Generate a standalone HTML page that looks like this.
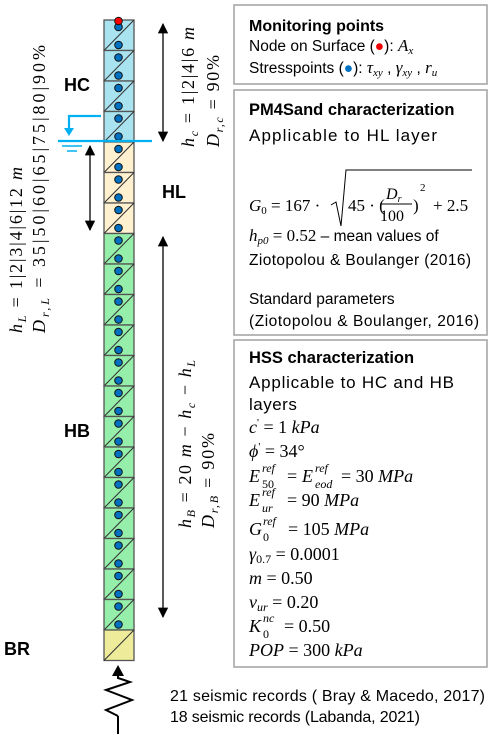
<!DOCTYPE html>
<html><head><meta charset="utf-8"><style>
html,body{margin:0;padding:0;background:#fff}
svg{display:block}
text{font-family:"Liberation Sans",sans-serif;fill:#000}
.n text,.n tspan{font-family:"Liberation Serif",serif}
.m,.n .m{font-family:"Liberation Serif",serif;font-style:italic}
.n{font-family:"Liberation Serif",serif}
</style></head><body>
<svg width="498" height="734" viewBox="0 0 498 734">
<g id="col"></g>
<text x="64" y="91" font-size="18" font-weight="bold">HC</text>
<text x="162" y="198" font-size="18" font-weight="bold">HL</text>
<text x="64" y="437" font-size="18" font-weight="bold">HB</text>
<text x="4" y="655" font-size="18" font-weight="bold">BR</text>
<defs><marker id="ah" viewBox="0 0 10 10" refX="9" refY="5" markerWidth="8" markerHeight="8" orient="auto-start-reverse"><path d="M0,0L10,5L0,10z" fill="#000"/></marker></defs>
<line x1="163" y1="24" x2="163" y2="141" stroke="#000" stroke-width="1.3" marker-start="url(#ah)" marker-end="url(#ah)"/>
<line x1="90" y1="146" x2="90" y2="230" stroke="#000" stroke-width="1.3" marker-start="url(#ah)" marker-end="url(#ah)"/>
<line x1="163" y1="237" x2="163" y2="617" stroke="#000" stroke-width="1.3" marker-start="url(#ah)" marker-end="url(#ah)"/>
<g stroke="#00b0f0" stroke-width="2.2" fill="none">
<line x1="58" y1="141" x2="152" y2="141"/>
<polyline points="101,116 69,116 69,130"/>
<path d="M64,128 L74,128 L69,136z" fill="#00b0f0" stroke="none"/>
<line x1="62" y1="146" x2="82" y2="146" stroke-width="1.5"/>
<line x1="67" y1="151" x2="77" y2="151" stroke-width="1.5"/>
</g>
<g class="n">
<g transform="translate(22,333) rotate(-90)"><text font-size="18" textLength="166" lengthAdjust="spacing"><tspan class="m">h</tspan><tspan class="m" font-size="12" dy="4">L</tspan><tspan dy="-4"> = 1|2|3|4|6|12 </tspan><tspan class="m">m</tspan></text></g>
<g transform="translate(45,333) rotate(-90)"><text font-size="18" textLength="288" lengthAdjust="spacing"><tspan class="m">D</tspan><tspan class="m" font-size="12" dy="4">r,L</tspan><tspan dy="-4"> = 35|50|60|65|75|80|90%</tspan></text></g>
<g transform="translate(194,147) rotate(-90)"><text font-size="18" textLength="120" lengthAdjust="spacing"><tspan class="m">h</tspan><tspan class="m" font-size="12" dy="4">c</tspan><tspan dy="-4"> = 1|2|4|6 </tspan><tspan class="m">m</tspan></text></g>
<g transform="translate(219,147) rotate(-90)"><text font-size="18" textLength="92" lengthAdjust="spacing"><tspan class="m">D</tspan><tspan class="m" font-size="12" dy="4">r,c</tspan><tspan dy="-4"> = 90%</tspan></text></g>
<g transform="translate(191,528) rotate(-90)"><text font-size="18" textLength="168" lengthAdjust="spacing"><tspan class="m">h</tspan><tspan class="m" font-size="12" dy="4">B</tspan><tspan dy="-4"> = 20 </tspan><tspan class="m">m</tspan><tspan> − </tspan><tspan class="m">h</tspan><tspan class="m" font-size="12" dy="4">c</tspan><tspan dy="-4"> − </tspan><tspan class="m">h</tspan><tspan class="m" font-size="12" dy="4">L</tspan></text></g>
<g transform="translate(214,528) rotate(-90)"><text font-size="18" textLength="95" lengthAdjust="spacing"><tspan class="m">D</tspan><tspan class="m" font-size="12" dy="4">r,B</tspan><tspan dy="-4"> = 90%</tspan></text></g>
</g>
<g stroke="#000" stroke-width="2" fill="none">
<line x1="118" y1="734" x2="118" y2="716"/>
<polyline points="118,716 106,710 132,700 106,690 130,682 118,678 118,675"/>
<path d="M112,676 L118,665 L124,676z" fill="#000" stroke="none"/>
</g>
<text x="170" y="701" font-size="16" textLength="315" lengthAdjust="spacing">21 seismic records ( Bray &amp; Macedo, 2017)</text>
<text x="170" y="722" font-size="16" textLength="250" lengthAdjust="spacing">18 seismic records (Labanda, 2021)</text>
<g fill="none" stroke="#a6a6a6" stroke-width="1.6">
<rect x="234" y="5" width="253" height="79"/>
<rect x="234" y="90" width="253" height="245"/>
<rect x="234" y="340" width="253" height="327"/>
</g>
<g font-size="15.5">
<text x="249" y="31" font-weight="bold" font-size="16">Monitoring points</text>
<text x="249" y="51">Node on Surface (<tspan fill="#e00">●</tspan>):  <tspan class="m" font-size="17">A</tspan><tspan class="m" font-size="11" dy="3">x</tspan></text>
<text x="249" y="73">Stresspoints (<tspan fill="#0070c0">●</tspan>): <tspan class="m" font-size="17">τ</tspan><tspan class="m" font-size="11" dy="3">xy</tspan><tspan dy="-3"> , </tspan><tspan class="m" font-size="17">γ</tspan><tspan class="m" font-size="11" dy="3">xy</tspan><tspan dy="-3"> , </tspan><tspan class="m" font-size="17">r</tspan><tspan class="m" font-size="11" dy="3">u</tspan></text>
<text x="249" y="115" font-weight="bold" font-size="16.5">PM4Sand characterization</text>
<text x="249" y="141" font-size="17" textLength="188" lengthAdjust="spacing">Applicable to HL layer</text>
<g class="n">
<text x="249" y="211" font-size="17"><tspan class="m">G</tspan><tspan font-size="11" dy="3">0</tspan><tspan dy="-3"> = 167 · </tspan></text>
<path d="M331,205 L336,202 L341,226 L346,170 L472,170" fill="none" stroke="#000" stroke-width="1"/>
<text x="348" y="211" font-size="17">45 · (</text>
<text x="386" y="199" class="m" font-size="16">D<tspan font-size="10" dy="3">r</tspan></text>
<line x1="380" y1="204" x2="412" y2="204" stroke="#000" stroke-width="1"/>
<text x="380" y="221" font-size="16">100</text>
<text x="413" y="211" font-size="17">)</text>
<text x="420" y="191" font-size="11">2</text>
<text x="433" y="211" font-size="17">+ 2.5</text>
</g>
<text x="249" y="241"><tspan class="m" font-size="17">h</tspan><tspan class="m" font-size="11" dy="3">p0</tspan><tspan dy="-3" class="n" font-size="17"> = 0.52</tspan> – mean values of</text>
<text x="249" y="265" textLength="222" lengthAdjust="spacing">Ziotopolou &amp; Boulanger (2016)</text>
<text x="249" y="304">Standard parameters</text>
<text x="249" y="326" textLength="230" lengthAdjust="spacing">(Ziotopolou &amp; Boulanger, 2016)</text>
<text x="249" y="363" font-weight="bold" font-size="16.5">HSS characterization</text>
<text x="249" y="388" font-size="17" textLength="205" lengthAdjust="spacing">Applicable to HC and HB</text>
<text x="249" y="410" font-size="17" letter-spacing="0.5">layers</text>
</g>
<g class="n" font-size="18">
<text x="249" y="433"><tspan class="m">c</tspan><tspan font-size="11" dy="-7">'</tspan><tspan dy="7"> = 1 </tspan><tspan class="m">kPa</tspan></text>
<text x="249" y="457"><tspan class="m">ϕ</tspan><tspan font-size="11" dy="-7">'</tspan><tspan dy="7"> = 34°</tspan></text>
<text x="249" y="482" class="m">E</text>
<text x="262" y="472" class="m" font-size="12">ref</text>
<text x="262" y="488" font-size="12">50</text>
<text x="287" y="482">= </text>
<text x="302" y="482" class="m">E</text>
<text x="315" y="472" class="m" font-size="12">ref</text>
<text x="315" y="488" class="m" font-size="12">eod</text>
<text x="341" y="482">= 30 <tspan class="m">MPa</tspan></text>
<text x="249" y="506" class="m">E</text>
<text x="262" y="496" class="m" font-size="12">ref</text>
<text x="262" y="512" class="m" font-size="12">ur</text>
<text x="287" y="506">= 90 <tspan class="m">MPa</tspan></text>
<text x="249" y="535" class="m">G</text>
<text x="263" y="525" class="m" font-size="12">ref</text>
<text x="263" y="541" font-size="12">0</text>
<text x="288" y="535">= 105 <tspan class="m">MPa</tspan></text>
<text x="249" y="560"><tspan class="m">γ</tspan><tspan font-size="12" dy="3">0.7</tspan><tspan dy="-3"> = 0.0001</tspan></text>
<text x="249" y="584"><tspan class="m">m</tspan> = 0.50</text>
<text x="249" y="608"><tspan class="m">ν</tspan><tspan class="m" font-size="12" dy="3">ur</tspan><tspan dy="-3"> = 0.20</tspan></text>
<text x="249" y="632" class="m">K</text>
<text x="263" y="622" class="m" font-size="12">nc</text>
<text x="263" y="638" font-size="12">0</text>
<text x="284" y="632">= 0.50</text>
<text x="249" y="656"><tspan class="m">POP</tspan> = 300 <tspan class="m">kPa</tspan></text>
</g>
</svg>
<script>
const layerNames=['HC','HL','HB','BR'];
const layerCells=[4,3,13,1];
const layerColors=['#a9e3ef','#fff1cf','#95eeaa','#eeeb9a'];
const g=document.getElementById('col');
const NS='http://www.w3.org/2000/svg';
const X0=104,W=30,Y0=20,H=30.5;
let idx=0;
layerCells.forEach((n,li)=>{
  for(let k=0;k<n;k++){
    const y=Y0+idx*H;
    const r=document.createElementNS(NS,'rect');
    r.setAttribute('x',X0);r.setAttribute('y',y);r.setAttribute('width',W);r.setAttribute('height',H);
    r.setAttribute('fill',layerColors[li]);r.setAttribute('stroke','#555');r.setAttribute('stroke-width','1.3');
    
    
    g.appendChild(r);
    const d=document.createElementNS(NS,'line');
    d.setAttribute('x1',X0);d.setAttribute('y1',y+H);d.setAttribute('x2',X0+W);d.setAttribute('y2',y);
    d.setAttribute('stroke','#333');d.setAttribute('stroke-width','1');
    g.appendChild(d);
    if(layerNames[li]!=='BR'){
      [7,25].forEach(o=>{
        const c=document.createElementNS(NS,'circle');
        c.setAttribute('cx',118.5);c.setAttribute('cy',y+o);c.setAttribute('r',3.8);
        c.setAttribute('fill','#0070c0');c.setAttribute('stroke','#111');c.setAttribute('stroke-width','1');
        
        
        g.appendChild(c);
      });
    }
    idx++;
  }
});
const red=document.createElementNS(NS,'circle');
red.setAttribute('cx',118.5);red.setAttribute('cy',21);red.setAttribute('r',3.8);
red.setAttribute('fill','#f00');red.setAttribute('stroke','#111');red.setAttribute('stroke-width','1');


g.appendChild(red);
</script>
</body></html>
